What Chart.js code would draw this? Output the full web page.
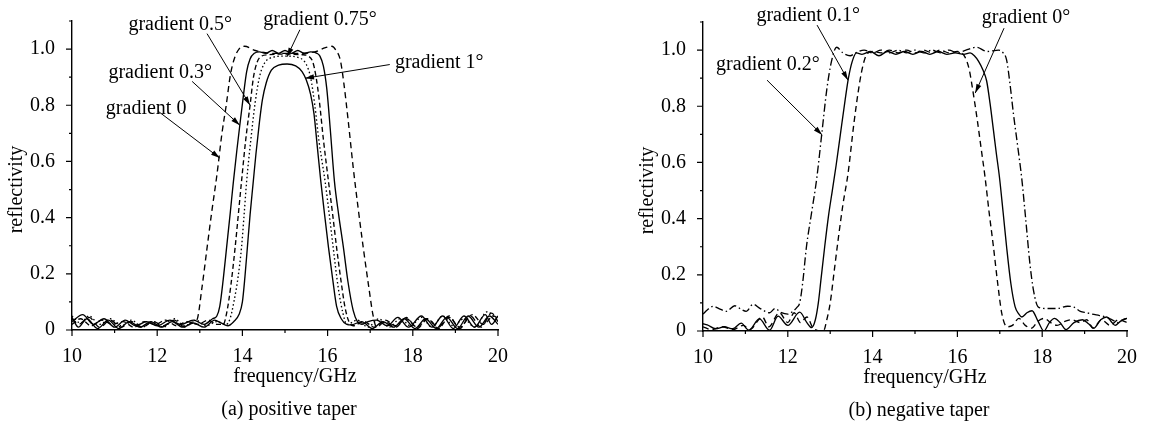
<!DOCTYPE html>
<html>
<head>
<meta charset="utf-8">
<script src="https://cdn.jsdelivr.net/npm/chart.js@4/dist/chart.umd.min.js"></script>
<style>
  body { margin: 0; background: #fff; width: 1151px; height: 423px; position: relative; overflow: hidden; }
  canvas { position: absolute; top: 0; }
  #posChart { left: 0; }
  #negChart { left: 576px; }
</style>
</head>
<body>
<canvas id="posChart" width="575" height="423"></canvas>
<canvas id="negChart" width="575" height="423"></canvas>
<script>
// axis ticks
const xMajor = [10, 12, 14, 16, 18, 20];
const xMinor = [11, 13, 15, 17, 19];
const yMajor = [0, 0.2, 0.4, 0.6, 0.8, 1.0];
const yMinor = [0.1, 0.3, 0.5, 0.7, 0.9, 1.1];
const yLabels = ['0', '0.2', '0.4', '0.6', '0.8', '1.0'];

// (a) positive taper : [frequency GHz, reflectivity]
const posGrad0 = [[10.0,0.04],[10.15,0.02],[10.4,0.045],[10.65,0.01],[10.9,0.035],[11.15,0.01],[11.4,0.03],[11.65,0.01],[11.9,0.03],[12.15,0.015],[12.4,0.035],[12.65,0.01],[12.85,0.03],[12.93,0.035],[13.05,0.15],[13.16,0.28],[13.28,0.42],[13.4,0.55],[13.52,0.7],[13.62,0.8],[13.72,0.91],[13.82,0.97],[13.92,1.0],[14.05,1.01],[14.3,0.995],[14.7,0.985],[15.0,0.985],[15.3,0.985],[15.7,0.99],[15.95,1.005],[16.1,1.01],[16.2,0.995],[16.3,0.96],[16.38,0.88],[16.48,0.75],[16.6,0.58],[16.72,0.43],[16.84,0.29],[16.96,0.16],[17.07,0.05],[17.15,0.01],[17.35,0.03],[17.6,0.01],[17.85,0.045],[18.1,0.005],[18.35,0.04],[18.6,0.01],[18.85,0.05],[19.1,0.005],[19.35,0.05],[19.6,0.01],[19.85,0.06],[20.0,0.03]];
const posGrad03 = [[10.0,0.03],[10.25,0.055],[10.5,0.02],[10.75,0.04],[11.0,0.01],[11.25,0.035],[11.5,0.015],[11.75,0.03],[12.0,0.015],[12.3,0.035],[12.55,0.02],[12.85,0.035],[13.1,0.02],[13.3,0.04],[13.4,0.05],[13.47,0.085],[13.55,0.18],[13.63,0.295],[13.71,0.41],[13.79,0.53],[13.87,0.64],[13.94,0.73],[14.02,0.83],[14.1,0.92],[14.18,0.965],[14.28,0.985],[14.4,0.99],[14.55,0.985],[14.7,0.995],[14.85,0.985],[15.0,0.995],[15.15,0.985],[15.3,0.995],[15.45,0.985],[15.6,0.99],[15.75,0.985],[15.82,0.975],[15.9,0.94],[15.98,0.86],[16.06,0.72],[16.16,0.53],[16.26,0.41],[16.37,0.295],[16.48,0.17],[16.6,0.07],[16.7,0.03],[16.8,0.02],[16.95,0.03],[17.15,0.035],[17.4,0.015],[17.65,0.045],[17.9,0.01],[18.2,0.05],[18.45,0.01],[18.7,0.05],[18.95,0.005],[19.2,0.05],[19.45,0.01],[19.7,0.055],[19.85,0.02],[20.0,0.05]];
const posGrad05 = [[10.0,0.02],[10.2,0.04],[10.45,0.015],[10.7,0.035],[10.95,0.02],[11.2,0.03],[11.45,0.01],[11.7,0.03],[11.95,0.02],[12.2,0.035],[12.45,0.015],[12.7,0.03],[12.95,0.02],[13.2,0.035],[13.4,0.02],[13.55,0.02],[13.63,0.06],[13.73,0.16],[13.83,0.295],[13.91,0.42],[13.98,0.53],[14.08,0.68],[14.18,0.8],[14.26,0.9],[14.35,0.955],[14.45,0.975],[14.6,0.98],[15.0,0.982],[15.4,0.98],[15.55,0.975],[15.65,0.955],[15.73,0.9],[15.81,0.81],[15.9,0.68],[16.02,0.53],[16.12,0.41],[16.21,0.295],[16.31,0.18],[16.41,0.08],[16.5,0.03],[16.6,0.015],[16.85,0.03],[17.1,0.01],[17.35,0.035],[17.6,0.015],[17.85,0.04],[18.1,0.01],[18.35,0.04],[18.6,0.005],[18.85,0.045],[19.1,0.01],[19.4,0.055],[19.65,0.02],[19.9,0.05],[20.0,0.04]];
const posGrad075 = [[10.0,0.05],[10.2,0.025],[10.4,0.05],[10.65,0.02],[10.9,0.04],[11.15,0.015],[11.4,0.035],[11.65,0.01],[11.9,0.03],[12.15,0.01],[12.4,0.04],[12.65,0.015],[12.9,0.035],[13.15,0.015],[13.4,0.03],[13.62,0.02],[13.71,0.04],[13.8,0.1],[13.9,0.19],[13.98,0.295],[14.04,0.41],[14.1,0.53],[14.2,0.68],[14.3,0.81],[14.4,0.9],[14.5,0.945],[14.65,0.968],[15.0,0.975],[15.35,0.968],[15.5,0.945],[15.6,0.9],[15.7,0.8],[15.8,0.67],[15.87,0.6],[15.94,0.53],[16.04,0.41],[16.13,0.295],[16.25,0.15],[16.36,0.06],[16.45,0.02],[16.7,0.035],[16.95,0.01],[17.2,0.04],[17.45,0.01],[17.7,0.04],[17.95,0.015],[18.2,0.045],[18.45,0.01],[18.7,0.05],[18.95,0.015],[19.2,0.04],[19.45,0.01],[19.75,0.065],[20.0,0.03]];
const posGrad1 = [[10.0,0.045],[10.15,0.01],[10.35,0.04],[10.6,0.005],[10.85,0.035],[11.1,0.005],[11.35,0.03],[11.6,0.01],[11.85,0.03],[12.1,0.01],[12.35,0.03],[12.6,0.01],[12.85,0.025],[13.1,0.01],[13.35,0.035],[13.5,0.025],[13.66,0.015],[13.8,0.03],[13.92,0.055],[14.0,0.1],[14.06,0.19],[14.12,0.3],[14.18,0.41],[14.25,0.52],[14.32,0.63],[14.4,0.74],[14.47,0.82],[14.56,0.88],[14.68,0.925],[14.85,0.943],[15.05,0.947],[15.25,0.94],[15.4,0.92],[15.5,0.89],[15.6,0.84],[15.68,0.77],[15.76,0.65],[15.84,0.53],[15.93,0.41],[16.02,0.295],[16.12,0.18],[16.21,0.085],[16.32,0.04],[16.45,0.02],[16.55,0.018],[16.8,0.03],[17.05,0.005],[17.3,0.03],[17.55,0.01],[17.8,0.04],[18.05,0.005],[18.3,0.04],[18.55,0.005],[18.8,0.045],[19.05,0.005],[19.3,0.05],[19.55,0.01],[19.8,0.05],[20.0,0.02]];

// (b) negative taper
const negGrad0 = [[10.0,0.015],[10.2,0.005],[10.45,0.015],[10.7,0.005],[10.95,0.02],[11.1,0.005],[11.4,0.05],[11.55,0.015],[11.8,0.065],[12.0,0.03],[12.15,0.065],[12.3,0.03],[12.45,0.05],[12.6,0.01],[12.84,0.0],[12.92,0.04],[13.0,0.1],[13.1,0.22],[13.2,0.34],[13.3,0.45],[13.42,0.56],[13.56,0.74],[13.7,0.89],[13.78,0.95],[13.86,0.985],[14.0,0.995],[14.2,0.99],[14.4,1.0],[14.6,0.99],[14.8,1.0],[15.0,0.99],[15.2,1.0],[15.4,0.99],[15.6,1.0],[15.8,0.99],[16.0,0.995],[16.1,0.99],[16.18,0.975],[16.28,0.93],[16.37,0.85],[16.47,0.75],[16.56,0.65],[16.65,0.55],[16.75,0.42],[16.85,0.3],[16.95,0.17],[17.05,0.06],[17.17,0.015],[17.3,0.02],[17.45,0.045],[17.6,0.02],[17.75,0.01],[17.9,0.035],[18.05,0.045],[18.2,0.03],[18.35,0.02],[18.55,0.035],[18.7,0.04],[18.9,0.03],[19.05,0.04],[19.2,0.01],[19.4,0.04],[19.6,0.02],[19.8,0.04],[20.0,0.03]];
const negGrad01 = [[10.0,0.026],[10.1,0.022],[10.3,0.008],[10.5,0.015],[10.7,0.008],[10.9,0.028],[11.08,0.003],[11.33,0.043],[11.57,0.003],[11.77,0.053],[12.0,0.02],[12.28,0.067],[12.45,0.03],[12.56,0.012],[12.65,0.04],[12.72,0.1],[12.78,0.18],[12.87,0.3],[12.96,0.41],[13.05,0.5],[13.14,0.59],[13.24,0.7],[13.35,0.82],[13.43,0.9],[13.52,0.96],[13.62,0.99],[13.75,0.985],[13.95,0.995],[14.15,0.98],[14.35,0.995],[14.55,0.985],[14.75,0.995],[14.95,0.985],[15.15,0.995],[15.35,0.985],[15.55,0.995],[15.75,0.985],[15.95,0.99],[16.15,0.985],[16.3,0.99],[16.4,0.98],[16.5,0.96],[16.6,0.93],[16.69,0.89],[16.77,0.81],[16.85,0.715],[16.92,0.63],[16.99,0.55],[17.08,0.42],[17.16,0.3],[17.26,0.17],[17.36,0.087],[17.45,0.06],[17.52,0.05],[17.64,0.065],[17.76,0.072],[17.9,0.035],[18.04,0.0],[18.17,0.03],[18.29,0.045],[18.42,0.03],[18.56,0.005],[18.75,0.03],[18.95,0.04],[19.1,0.025],[19.22,0.01],[19.38,0.04],[19.52,0.05],[19.62,0.035],[19.72,0.02],[19.85,0.035],[20.0,0.045]];
const negGrad02 = [[10.0,0.06],[10.1,0.075],[10.24,0.088],[10.4,0.078],[10.55,0.07],[10.75,0.09],[10.9,0.077],[11.02,0.07],[11.18,0.095],[11.35,0.08],[11.57,0.065],[11.7,0.08],[11.85,0.065],[12.0,0.06],[12.12,0.07],[12.22,0.085],[12.28,0.1],[12.35,0.17],[12.44,0.3],[12.56,0.42],[12.68,0.54],[12.8,0.7],[12.92,0.86],[13.03,0.96],[13.15,1.01],[13.3,0.99],[13.47,0.98],[13.6,0.99],[13.8,1.0],[14.0,0.99],[14.2,1.0],[14.4,0.99],[14.6,1.0],[14.8,0.99],[15.0,1.0],[15.2,0.99],[15.4,1.0],[15.6,0.99],[15.8,1.0],[16.0,0.99],[16.2,1.0],[16.45,1.01],[16.7,0.995],[16.97,1.0],[17.08,0.99],[17.16,0.965],[17.24,0.88],[17.32,0.775],[17.42,0.66],[17.52,0.54],[17.61,0.4],[17.71,0.24],[17.8,0.14],[17.91,0.085],[18.1,0.08],[18.35,0.08],[18.6,0.088],[18.75,0.085],[18.9,0.07],[19.05,0.065],[19.18,0.06],[19.35,0.055],[19.5,0.05],[19.65,0.04],[19.8,0.03],[19.9,0.04],[20.0,0.045]];

// label callouts (text anchor, line start, arrow tip) in data units
const posNotes = [
  { text: 'gradient 0.5°',  at: [12.54, 1.087], from: [13.17, 1.055], to: [14.18, 0.80] },
  { text: 'gradient 0.75°', at: [15.82, 1.104], from: [15.35, 1.069], to: [15.05, 0.973] },
  { text: 'gradient 0.3°',  at: [12.07, 0.917], from: [12.82, 0.885], to: [13.94, 0.729] },
  { text: 'gradient 0',     at: [11.74, 0.786], from: [12.02, 0.779], to: [13.47, 0.612] },
  { text: 'gradient 1°',    at: [18.62, 0.952], from: [17.46, 0.945], to: [15.47, 0.896] }
];
const negNotes = [
  { text: 'gradient 0.1°', at: [12.48, 1.121], from: [12.69, 1.089], to: [13.42, 0.893] },
  { text: 'gradient 0.2°', at: [11.53, 0.947], from: [11.51, 0.893], to: [12.81, 0.698] },
  { text: 'gradient 0°',   at: [17.62, 1.114], from: [17.10, 1.078], to: [16.42, 0.847] }
];

const FONT = '"Liberation Serif", "Times New Roman", serif';

const deco = {
  id: 'deco',
  afterDraw(chart, args, opts) {
    const { ctx, chartArea: a, scales: { x, y } } = chart;
    ctx.save();
    ctx.strokeStyle = '#000';
    ctx.lineWidth = 1.2;
    ctx.beginPath();
    xMajor.forEach(v => { const p = x.getPixelForValue(v); ctx.moveTo(p, a.bottom); ctx.lineTo(p, a.bottom + 6); });
    xMinor.forEach(v => { const p = x.getPixelForValue(v); ctx.moveTo(p, a.bottom); ctx.lineTo(p, a.bottom + 3); });
    yMajor.forEach(v => { const p = y.getPixelForValue(v); ctx.moveTo(a.left, p); ctx.lineTo(a.left - 6, p); });
    yMinor.forEach(v => { const p = y.getPixelForValue(v); ctx.moveTo(a.left, p); ctx.lineTo(a.left - 3, p); });
    ctx.stroke();

    ctx.fillStyle = '#000';
    ctx.font = '20px ' + FONT;
    ctx.textAlign = 'center';
    ctx.textBaseline = 'middle';
    const cx = (a.left + a.right) / 2;
    ctx.fillText('frequency/GHz', cx + 10, a.bottom + 47);
    ctx.fillText(opts.caption, cx + 4, a.bottom + 80);

    // callouts
    ctx.lineWidth = 1;
    opts.notes.forEach(n => {
      ctx.fillText(n.text, x.getPixelForValue(n.at[0]), y.getPixelForValue(n.at[1]));
      const x0 = x.getPixelForValue(n.from[0]), y0 = y.getPixelForValue(n.from[1]);
      const x1 = x.getPixelForValue(n.to[0]), y1 = y.getPixelForValue(n.to[1]);
      const ang = Math.atan2(y1 - y0, x1 - x0);
      ctx.beginPath(); ctx.moveTo(x0, y0); ctx.lineTo(x1, y1); ctx.stroke();
      ctx.beginPath();
      ctx.moveTo(x1, y1);
      ctx.lineTo(x1 - 9 * Math.cos(ang) + 2.6 * Math.sin(ang), y1 - 9 * Math.sin(ang) - 2.6 * Math.cos(ang));
      ctx.lineTo(x1 - 9 * Math.cos(ang) - 2.6 * Math.sin(ang), y1 - 9 * Math.sin(ang) + 2.6 * Math.cos(ang));
      ctx.closePath(); ctx.fill();
    });

    ctx.translate(a.left - 55, (a.top + a.bottom) / 2 + 14);
    ctx.rotate(-Math.PI / 2);
    ctx.fillText('reflectivity', 0, 0);
    ctx.restore();
  }
};

function line(data, dash) {
  return {
    data: data,
    borderColor: '#000',
    borderWidth: 1.35,
    borderDash: dash,
    pointRadius: 0,
    fill: false,
    cubicInterpolationMode: 'monotone'
  };
}

function makeChart(id, datasets, pad, xHeight, caption, notes) {
  return new Chart(document.getElementById(id), {
    type: 'line',
    data: { datasets: datasets },
    plugins: [deco],
    options: {
      responsive: false,
      animation: false,
      devicePixelRatio: 1,
      layout: { padding: pad },
      plugins: { legend: { display: false }, tooltip: { enabled: false }, deco: { caption: caption, notes: notes } },
      scales: {
        x: {
          type: 'linear', min: 10, max: 20,
          grid: { display: false },
          border: { display: true, color: '#000', width: 1.4 },
          afterBuildTicks: s => { s.ticks = xMajor.map(v => ({ value: v })); },
          afterFit: s => { s.height = xHeight; },
          ticks: { color: '#000', padding: 7, maxRotation: 0, font: { family: FONT, size: 20 } }
        },
        y: {
          type: 'linear', min: 0, max: 1.1,
          grid: { display: false },
          border: { display: true, color: '#000', width: 1.4 },
          afterBuildTicks: s => { s.ticks = yMajor.map(v => ({ value: v })); },
          afterFit: s => { s.width = 62; },
          ticks: { color: '#000', padding: 9, font: { family: FONT, size: 20 }, callback: (v, i) => yLabels[i] }
        }
      }
    }
  });
}

makeChart('posChart', [
  line(posGrad0, [6, 4]),
  line(posGrad03, []),
  line(posGrad05, [5, 3]),
  line(posGrad075, [1.5, 2.5]),
  line(posGrad1, [])
], { left: 10, right: 77, top: 20, bottom: 0 }, 93, '(a) positive taper', posNotes);

makeChart('negChart', [
  line(negGrad0, [6, 4]),
  line(negGrad01, []),
  line(negGrad02, [8, 3, 1.5, 3])
], { left: 65, right: 24, top: 22, bottom: 0 }, 92, '(b) negative taper', negNotes);
</script>
</body>
</html>
